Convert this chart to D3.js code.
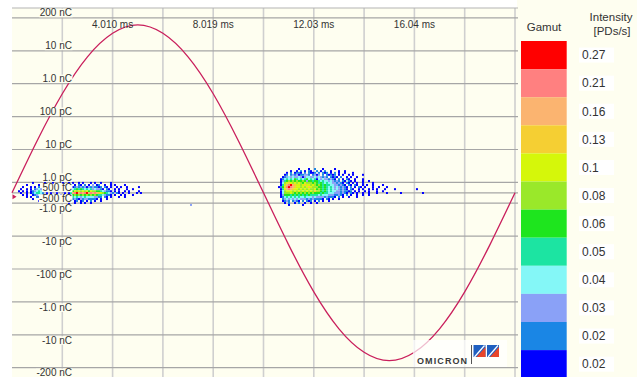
<!DOCTYPE html>
<html>
<head>
<meta charset="utf-8">
<script src="https://cdn.jsdelivr.net/npm/d3@7"></script>
<style>
  html, body { margin: 0; padding: 0; background: #fff; }
  svg { display: block; font-family: "Liberation Sans", Arial, sans-serif; }
</style>
</head>
<body>
<svg id="chart" width="644" height="377"></svg>
<script>
// ---- Phase axis: one mains cycle, in ms ----
const cycleMs = 20.048;
const gridTimes = [2.0048, 4.0096, 6.0144, 8.0192, 10.024, 12.0288, 14.0336, 16.0384, 18.0432, 20.048];
const timeTicks = [4.0096, 8.0192, 12.0288, 16.0384];
const timeLabels = ["4.010 ms", "8.019 ms", "12.03 ms", "16.04 ms"];

// ---- Charge axis (pC) ----
const chargeTicks = [200000, 10000, 1000, 100, 10, 1, 0.5, -0.5, -1, -10, -100, -1000, -10000, -200000];
const chargeLabels = ["200 nC", "10 nC", "1.0 nC", "100 pC", "10 pC", "1.0 pC", "500 fC",
                      "-500 fC", "-1.0 pC", "-10 pC", "-100 pC", "-1.0 nC", "-10 nC", "-200 nC"];
const gridCharges = [200000, 10000, 1000, 100, 10, 1, 0, -1, -10, -100, -1000, -10000, -200000];

// ---- Intensity gamut (PDs/s), highest first ----
const gamutValues = ["0.27", "0.21", "0.16", "0.13", "0.1", "0.08", "0.06", "0.05", "0.04", "0.03", "0.02", "0.02"];
const gamutColors = ["#ff0000", "#ff8080", "#fbb470", "#f5cf33", "#d5f70a", "#9ae82a",
                     "#1ee51e", "#1ce4a2", "#84f7f7", "#8aa1f7", "#1a86e5", "#0000ff"];

// ---- Synchronisation wave, normalised, sampled every 1.0024 ms ----
const refTimes = [0, 1.0024, 2.0048, 3.0072, 4.0096, 5.012, 6.0144, 7.0168, 8.0192, 9.0216, 10.024,
                  11.0264, 12.0288, 13.0312, 14.0336, 15.036, 16.0384, 17.0408, 18.0432, 19.0456, 20.048];
const refWave = [0, 0.31, 0.59, 0.81, 0.95, 1.0, 0.95, 0.81, 0.59, 0.31, 0,
                 -0.31, -0.59, -0.81, -0.95, -1.0, -0.95, -0.81, -0.59, -0.31, 0];

// ---- PD pattern: phase-resolved intensity bins ----
// Each row is one charge bin (value in pC); each character one time bin,
// holding the gamut class (0 = lowest .. b = highest) or '.' for no pulses.
const binMs = 0.0797;
const rowCharges = [2.9, 2.55, 2.2, 1.95, 1.7, 1.45, 1.25, 1.1, 0.95, 0.75,
                    0.55, 0.35, 0.15, -0.02, -0.21, -0.4, -0.6, -0.79, -0.98, -1.13];

const leftStartMs = 0.239;
const leftRows = [
  "",
  "",
  "",
  "",
  "",
  "",
  "",
  "",
  ".......0.....0...0....0..0.0..0.0...0.0..0....0",
  "....0.....0..0.0...0.0..0.1.0.10.1.0.2.01..0..0.0....0",
  "..0...0.0.1..0...0.0..0.0.1012121202121101.10.0..0.0..0.....0",
  ".0..0.0.1232.0.0...0..0..013454543434232210.10..0.0...0..0",
  "0.0.0.0123431.0..0..0.0..0257676767576655432110.0.0..0.0....0",
  ".0..0.0134431.0.0..0...0.049ab9a9ab9a9a987654321.10.0..0...0.0",
  "..0.0..012321.0...0..0...0256565656565654432110.0..0.0...0",
  "....0.0..101.0..0....0..013434323433332211.10.0...0..0",
  ".......0....0....0..0...0121210212211110.0..0",
  "..........0.......0.....0.1.01.01.0.1.0..0",
  ".........................0..0..0.0..0",
  ""
];

const rightStartMs = 10.602;
const rightRows = [
  "",
  "..........0....0..1...0.....0",
  "......0..0.1.0.10..1.0.1..0...0..0",
  "....0.1.0110.1.1001.1.101.0.1.0..0...0",
  "...01.1212011221.1202.1.10101.0.0..0.0....0",
  "..01232322320233223232121.1010.1..0.0..0",
  ".0134343543434534340323221210.1.0.10..0...0",
  ".024565656556525545543433232121.10.10.0...0..0",
  ".03678767676576665654543433221210.10.0.0..0....0",
  ".0479ab987767877676565454433221210.10.10..0.0..0....0",
  "0158aba9877676787666554543432321210.1.0.10.0...0..0...0",
  ".0479a98776767676675654543432321210.10..0.0..0.0.0...0....0..........0",
  ".036777676767676768665454343322121101.0.0..0.0...0..0",
  ".0366676565656565655545443332221210.10.0..0..0...0....0......0..........0",
  ".02555454545454544443433322211210.1.0..0..0..0",
  ".0134343434334333232222121110.1.0..0...0",
  "..123232323222121211110.10.0..0",
  "..0121.1210.1.101.0.1.0..0",
  "...0.1..0.1..0..0..0",
  ".....0......0"
];

// isolated pulses: [time ms, charge pC, class]
const strayPulses = [[7.094, -1.13, 2]];

// ================= drawing =================
const W = 644, H = 377;
const svg = d3.select("#chart");
const cream = "#fefef0";

const plotLeft = 12, plotRight = 515, plotTop = 8;
const x = d3.scaleLinear().domain([0, cycleMs]).range([plotLeft, plotRight]);

// charge scale: linear inside +-1 pC, one grid step per decade outside
const yZero = 192.8, innerPx = 10.4, decadePx = 32.9;
const innerScale = d3.scaleLinear().domain([0, 1]).range([0, innerPx]);
const magScale = d3.scaleLog()
  .domain([1, 10, 100, 1000, 10000, 200000])
  .range(d3.range(6).map(i => innerPx + i * decadePx));
function y(q) {
  const a = Math.abs(q);
  const off = a <= 1 ? innerScale(a) : magScale(a);
  return q < 0 ? yZero + off : yZero - off;
}
// phase reference wave spans the display height
const halfSpan = (y(-200000) - y(200000)) / 2;
const yRef = d3.scaleLinear().domain([-1, 1]).range([yZero + 0.96 * halfSpan, yZero - 0.96 * halfSpan]);

// backgrounds
svg.append("rect").attr("x", 0).attr("y", 0).attr("width", W).attr("height", H).attr("fill", "#fff");
svg.append("rect").attr("x", plotLeft).attr("y", plotTop).attr("width", 517 - plotLeft).attr("height", H - plotTop).attr("fill", cream);
svg.append("rect").attr("x", 517).attr("y", 0).attr("width", 120).attr("height", H).attr("fill", cream);

// grid
const grid = svg.append("g");
grid.selectAll("line.v").data(gridTimes).join("line")
  .attr("x1", d => x(d)).attr("x2", d => x(d))
  .attr("y1", plotTop).attr("y2", H)
  .attr("stroke", "#cfcfcf").attr("stroke-width", 1.6);
grid.selectAll("line.h").data(gridCharges).join("line")
  .attr("x1", plotLeft).attr("x2", 518)
  .attr("y1", d => y(d)).attr("y2", d => y(d))
  .attr("stroke", "#a6a6a6").attr("stroke-width", 1.2);
grid.append("line").attr("x1", plotLeft).attr("x2", 518).attr("y1", plotTop).attr("y2", plotTop)
  .attr("stroke", "#b4b4b4").attr("stroke-width", 1.1);

// PD pattern cells
const colorOf = k => gamutColors[gamutColors.length - 1 - k];
const cells = [];
function addRows(rows, startMs) {
  rows.forEach((row, i) => {
    for (let c = 0; c < row.length; c++) {
      const ch = row[c];
      if (ch === ".") continue;
      cells.push({ t: startMs + c * binMs, q: rowCharges[i], k: parseInt(ch, 16) });
    }
  });
}
addRows(leftRows, leftStartMs);
addRows(rightRows, rightStartMs);
strayPulses.forEach(p => cells.push({ t: p[0], q: p[1], k: p[2] }));

svg.append("g").selectAll("rect").data(cells).join("rect")
  .attr("x", d => x(d.t))
  .attr("width", d => x(d.t + binMs) - x(d.t))
  .attr("y", d => y(d.q) - 1)
  .attr("height", 2)
  .attr("fill", d => colorOf(d.k));

// synchronisation wave
const waveColor = "#c91f5c";
const line = d3.line().x((d, i) => x(refTimes[i])).y(d => yRef(d)).curve(d3.curveNatural);
svg.append("path").datum(refWave).attr("d", line)
  .attr("fill", "none").attr("stroke", waveColor).attr("stroke-width", 1.3);

// trigger marker
svg.append("path")
  .attr("d", `M${x(0) + 0.5},${yZero + 1.5} L${x(0) + 4.5},${yZero + 4} L${x(0) + 0.5},${yZero + 6.5} Z`)
  .attr("fill", waveColor);

// charge labels, each on a small cream plate
const yl = svg.append("g").attr("font-size", 10).attr("fill", "#333").attr("text-anchor", "end");
chargeTicks.forEach((v, i) => {
  const anchor = Math.abs(v) < 1 ? yZero : y(v);
  const t = yl.append("text")
    .attr("x", 72)
    .attr("y", v > 0 ? anchor - 1.6 : Math.min(anchor + 9, H - 0.8))
    .text(chargeLabels[i]);
  const b = t.node().getBBox();
  yl.insert("rect", () => t.node())
    .attr("x", b.x - 0.5).attr("y", b.y + 1.5)
    .attr("width", b.width + 1).attr("height", b.height - 2.5)
    .attr("fill", cream);
});

// time labels
svg.append("g").attr("font-size", 10).attr("fill", "#333").attr("text-anchor", "middle")
  .selectAll("text").data(timeTicks).join("text")
  .attr("x", d => x(d)).attr("y", 27.5)
  .text((d, i) => timeLabels[i]);

// legend
const lg = svg.append("g");
lg.append("text").attr("x", 544).attr("y", 31).attr("font-size", 11.5).attr("fill", "#333")
  .attr("text-anchor", "middle").text("Gamut");
lg.append("text").attr("x", 611).attr("y", 21).attr("font-size", 11.5).attr("fill", "#333")
  .attr("text-anchor", "middle").text("Intensity");
lg.append("text").attr("x", 612).attr("y", 34.5).attr("font-size", 11.5).attr("fill", "#333")
  .attr("text-anchor", "middle").text("[PDs/s]");
const boxTop = 41, boxH = 28.1;
const gy = d3.scaleBand().domain(d3.range(gamutValues.length)).range([boxTop, boxTop + boxH * gamutValues.length]);
lg.selectAll("rect.box").data(gamutColors).join("rect")
  .attr("x", 521).attr("width", 45.7)
  .attr("y", (d, i) => gy(i)).attr("height", gy.bandwidth())
  .attr("fill", d => d);
lg.selectAll("rect.bg").data(gamutValues).join("rect")
  .attr("x", 579).attr("width", 35)
  .attr("y", (d, i) => gy(i) + gy.bandwidth() / 2 - 7.5).attr("height", 15)
  .attr("fill", "#fff");
lg.selectAll("text.val").data(gamutValues).join("text")
  .attr("x", 582).attr("y", (d, i) => gy(i) + gy.bandwidth() / 2 + 4.3)
  .attr("font-size", 12).attr("fill", "#333")
  .text(d => d);

// maker's badge
const badge = svg.append("g");
badge.append("rect").attr("x", 413).attr("y", 340).attr("width", 94).attr("height", 27)
  .attr("fill", "#fff").attr("opacity", 0.7);
badge.append("text").attr("x", 417).attr("y", 364).attr("font-size", 9).attr("font-weight", "bold")
  .attr("letter-spacing", 1.1).attr("fill", "#3a3a3a").text("OMICRON");
badge.append("line").attr("x1", 471.5).attr("x2", 471.5).attr("y1", 345).attr("y2", 364)
  .attr("stroke", "#555").attr("stroke-width", 1);
[473.5, 487].forEach(bx => {
  badge.append("rect").attr("x", bx).attr("y", 345).attr("width", 12).attr("height", 12).attr("fill", "#1f5fc0");
  badge.append("path").attr("d", `M${bx + 3},357 L${bx + 12},347 L${bx + 12},357 Z`)
    .attr("fill", "#e8452a");
  badge.append("line").attr("x1", bx + 1).attr("y1", 357).attr("x2", bx + 11).attr("y2", 345.5)
    .attr("stroke", "#fff").attr("stroke-width", 1.2);
});
</script>
</body>
</html>
